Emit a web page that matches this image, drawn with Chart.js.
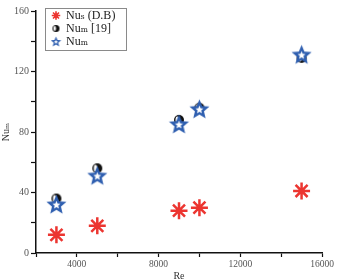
<!DOCTYPE html>
<html lang="en">
<head>
<meta charset="UTF-8">
<title>Nu vs Re</title>
<script src="https://cdn.jsdelivr.net/npm/chart.js"></script>
<style>
  body { margin: 0; background: #fff; }
  #wrap { width: 338px; height: 279px; }
</style>
</head>
<body>
<div id="wrap"><canvas id="nuChart"></canvas></div>
<script>
// values
const reValues = [3000, 5000, 9000, 10000, 15000];
const nuS = [12, 18, 28, 30, 41];
const nuMRef = [36, 56, 88, 96, 129];
const nuM = [32, 51, 85, 95, 131];
const seriesLabels = ["Nuₛ (D.B)", "Nuₘ [19]", "Nuₘ"];
const xLabelTicks = [4000, 8000, 12000, 16000];
const yLabelTicks = [0, 40, 80, 120, 160];

const SERIF = "'Liberation Serif', 'DejaVu Serif', serif";
const LEGEND_SHIFT = { x: 15, y: 8.5 };

// blue five point star with a white core
function starImage(r) {
  const c = document.createElement("canvas");
  const s = Math.ceil(r * 2 + 2);
  c.width = s; c.height = s;
  const g = c.getContext("2d");
  const path = (R) => {
    g.beginPath();
    for (let i = 0; i < 10; i++) {
      const rr = i % 2 ? R * 0.45 : R;
      const a = -Math.PI / 2 + i * Math.PI / 5;
      g.lineTo(s / 2 + rr * Math.cos(a), s / 2 + 0.5 + rr * Math.sin(a));
    }
    g.closePath();
  };
  path(r); g.fillStyle = "#2f5fb0"; g.fill();
  path(r * 0.4); g.fillStyle = "#ffffff"; g.fill();
  return c;
}

// black circle with a white crescent on the left
function halfDot(r) {
  const c = document.createElement("canvas");
  const s = Math.ceil(r * 2 + 2);
  c.width = s; c.height = s;
  const g = c.getContext("2d");
  g.beginPath(); g.arc(s / 2, s / 2, r, 0, Math.PI * 2);
  g.fillStyle = "#111"; g.fill();
  g.beginPath(); g.ellipse(s / 2 - r * 0.35, s / 2, r * 0.35, r * 0.7, 0, 0, Math.PI * 2);
  g.fillStyle = "#fff"; g.fill();
  return c;
}

const pts = (ys) => reValues.map((x, i) => ({ x: x, y: ys[i] }));

const legendIcons = [null, halfDot(3.5), starImage(5.5)];

// nudge the legend into place and draw a frame round it
const legendBox = {
  id: "legendBox",
  afterLayout(chart) {
    const lg = chart.legend;
    lg.left += LEGEND_SHIFT.x; lg.right += LEGEND_SHIFT.x;
    lg.top += LEGEND_SHIFT.y; lg.bottom += LEGEND_SHIFT.y;
  },
  afterDraw(chart) {
    const boxes = chart.legend.legendHitBoxes;
    if (!boxes || !boxes.length) return;
    const ctx = chart.ctx;
    const left = Math.min(...boxes.map(b => b.left)) - 7;
    const right = Math.max(...boxes.map(b => b.left + b.width)) + 11;
    const top = boxes[0].top - 2;
    const last = boxes[boxes.length - 1];
    const bottom = last.top + last.height + 2;
    ctx.save();
    ctx.strokeStyle = "#8a8a8a";
    ctx.lineWidth = 1;
    ctx.strokeRect(Math.round(left) + 0.5, Math.round(top) + 0.5, Math.round(right - left), Math.round(bottom - top));
    ctx.restore();
  }
};

new Chart(document.getElementById("nuChart"), {
  type: "scatter",
  data: {
    datasets: [
      {
        label: seriesLabels[0], data: pts(nuS), order: 2,
        pointStyle: "star", pointRadius: 8.5, pointHoverRadius: 8.5,
        borderColor: "#ec3530", backgroundColor: "#ec3530", borderWidth: 2.5
      },
      {
        label: seriesLabels[1], data: pts(nuMRef), order: 1,
        pointStyle: halfDot(5), borderColor: "#111", backgroundColor: "#111"
      },
      {
        label: seriesLabels[2], data: pts(nuM), order: 0,
        pointStyle: starImage(10.5), borderColor: "#2f5fb0", backgroundColor: "#2f5fb0"
      }
    ]
  },
  options: {
    responsive: true,
    maintainAspectRatio: false,
    animation: false,
    layout: { padding: { top: 5, right: 16, left: 0, bottom: 0 } },
    plugins: {
      tooltip: { enabled: false },
      legend: {
        position: "chartArea",
        align: "start",
        labels: {
          usePointStyle: true,
          boxWidth: 8,
          boxHeight: 6,
          padding: 1,
          color: "#222",
          font: { family: SERIF, size: 12 },
          sort: (a, b) => a.datasetIndex - b.datasetIndex,
          generateLabels(chart) {
            return chart.data.datasets.map((ds, i) => ({
              text: ds.label,
              datasetIndex: i,
              pointStyle: legendIcons[i] || ds.pointStyle,
              strokeStyle: ds.borderColor,
              fillStyle: ds.backgroundColor,
              lineWidth: i === 0 ? 1.6 : 0,
              fontColor: "#222",
              hidden: false
            }));
          }
        }
      }
    },
    scales: {
      x: {
        type: "linear",
        min: 2000, max: 16000,
        afterFit: (s) => { s.height = 26; s.paddingLeft = 0; s.paddingRight = 0; },
        grid: { drawOnChartArea: false, tickLength: 4, tickWidth: 1.2, tickColor: "#111" },
        border: { color: "#111", width: 1.5 },
        ticks: {
          stepSize: 2000, padding: 2, color: "#555",
          font: { family: SERIF, size: 9.5 },
          maxRotation: 0,
          callback: (v) => xLabelTicks.includes(v) ? String(v) : ""
        },
        title: { display: true, text: "Re", color: "#333", font: { family: SERIF, size: 10 }, padding: { top: 0, bottom: -3 } }
      },
      y: {
        min: 0, max: 160,
        afterFit: (s) => { s.width = 36; s.paddingTop = 0; s.paddingBottom = 0; },
        grid: { drawOnChartArea: false, tickLength: 5, tickWidth: 1.2, tickColor: "#111" },
        border: { color: "#111", width: 1.5 },
        ticks: {
          stepSize: 20, padding: 2, color: "#555",
          font: { family: SERIF, size: 10 },
          callback: (v) => yLabelTicks.includes(v) ? String(v) : ""
        },
        title: { display: true, text: "Nuₘ", color: "#333", font: { family: SERIF, size: 10 }, padding: { top: 0, bottom: 0 } }
      }
    }
  },
  plugins: [legendBox]
});
</script>
</body>
</html>
